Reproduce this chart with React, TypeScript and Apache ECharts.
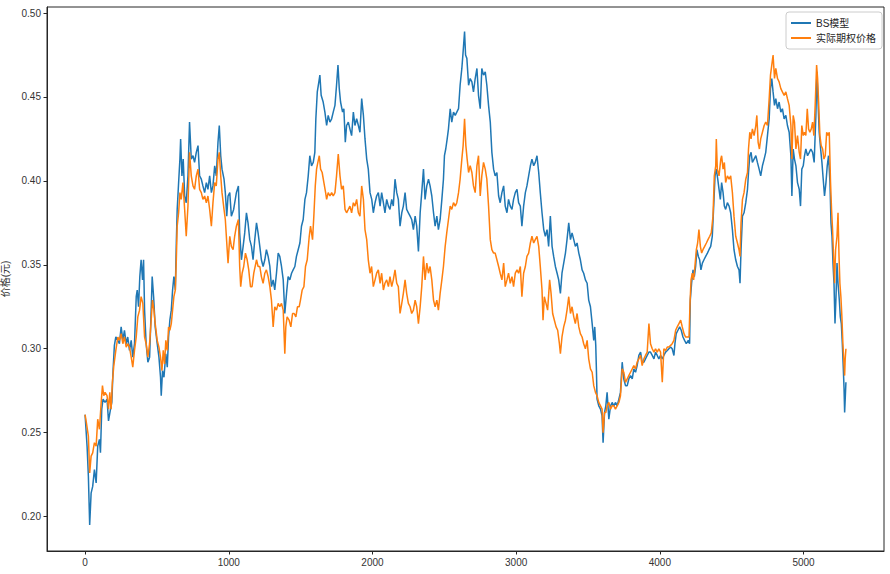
import React, { useEffect, useRef } from "react";
import * as echarts from "echarts";

// [index, price] pairs
const bsModel: number[][] = [
[0,0.2607],[14,0.2418],[23,0.224],[32,0.195],[42,0.214],[53,0.218],[65,0.228],[77,0.22],[88,0.242],[100,0.246],[107,0.238],[116,0.264],[125,0.270],[139,0.268],[153,0.270],[163,0.257],[177,0.264],[186,0.268],[195,0.2876],[204,0.302],[214,0.307],[228,0.305],[239,0.303],[251,0.313],[263,0.305],[274,0.311],[286,0.303],[297,0.307],[309,0.299],[321,0.305],[332,0.295],[344,0.303],[356,0.331],[363,0.335],[372,0.325],[381,0.343],[390,0.353],[400,0.341],[407,0.353],[414,0.323],[425,0.303],[437,0.292],[449,0.295],[460,0.323],[467,0.343],[477,0.331],[488,0.313],[502,0.303],[514,0.295],[525,0.283],[530,0.272],[539,0.287],[549,0.283],[562,0.297],[572,0.289],[581,0.307],[590,0.317],[600,0.323],[609,0.335],[618,0.343],[628,0.335],[635,0.363],[641,0.383],[651,0.399],[660,0.413],[665,0.425],[674,0.403],[683,0.413],[693,0.391],[704,0.387],[716,0.403],[727,0.435],[739,0.413],[751,0.415],[762,0.411],[774,0.417],[786,0.421],[797,0.403],[809,0.401],[820,0.397],[832,0.393],[844,0.399],[855,0.395],[867,0.403],[879,0.393],[890,0.397],[902,0.409],[913,0.403],[925,0.423],[934,0.433],[944,0.415],[953,0.407],[967,0.401],[976,0.393],[986,0.379],[995,0.391],[1007,0.393],[1018,0.379],[1034,0.383],[1053,0.393],[1067,0.397],[1076,0.369],[1088,0.353],[1100,0.361],[1111,0.369],[1123,0.381],[1134,0.375],[1146,0.365],[1158,0.361],[1169,0.353],[1181,0.365],[1193,0.375],[1204,0.369],[1216,0.361],[1227,0.353],[1239,0.349],[1251,0.353],[1262,0.359],[1274,0.355],[1286,0.349],[1297,0.337],[1309,0.341],[1320,0.335],[1332,0.345],[1344,0.357],[1355,0.355],[1367,0.349],[1379,0.341],[1390,0.321],[1402,0.333],[1413,0.343],[1425,0.341],[1437,0.345],[1448,0.347],[1460,0.349],[1471,0.355],[1483,0.359],[1495,0.363],[1506,0.373],[1518,0.377],[1530,0.389],[1541,0.393],[1553,0.403],[1564,0.415],[1576,0.409],[1588,0.411],[1599,0.417],[1606,0.437],[1616,0.453],[1627,0.459],[1634,0.463],[1643,0.451],[1657,0.447],[1669,0.441],[1681,0.433],[1692,0.439],[1704,0.435],[1716,0.437],[1727,0.441],[1739,0.445],[1750,0.457],[1760,0.469],[1769,0.455],[1778,0.447],[1792,0.441],[1801,0.443],[1811,0.423],[1820,0.433],[1832,0.435],[1843,0.431],[1855,0.427],[1867,0.441],[1878,0.433],[1890,0.437],[1902,0.433],[1913,0.429],[1925,0.449],[1937,0.439],[1948,0.425],[1960,0.413],[1971,0.407],[1983,0.393],[1995,0.389],[2006,0.381],[2018,0.387],[2029,0.391],[2041,0.393],[2053,0.385],[2064,0.393],[2076,0.387],[2087,0.381],[2099,0.389],[2111,0.385],[2122,0.383],[2134,0.389],[2145,0.385],[2157,0.401],[2169,0.393],[2180,0.389],[2192,0.373],[2204,0.381],[2215,0.385],[2227,0.393],[2238,0.383],[2250,0.381],[2262,0.379],[2273,0.377],[2285,0.371],[2297,0.379],[2308,0.373],[2320,0.358],[2332,0.381],[2343,0.393],[2355,0.407],[2366,0.389],[2378,0.397],[2390,0.401],[2401,0.397],[2413,0.391],[2425,0.381],[2436,0.373],[2448,0.379],[2459,0.371],[2471,0.377],[2483,0.389],[2494,0.401],[2501,0.415],[2510,0.419],[2520,0.425],[2529,0.431],[2541,0.443],[2552,0.435],[2564,0.441],[2576,0.439],[2587,0.441],[2599,0.443],[2610,0.457],[2622,0.467],[2631,0.477],[2641,0.489],[2648,0.475],[2657,0.473],[2669,0.457],[2680,0.461],[2692,0.459],[2703,0.453],[2715,0.461],[2727,0.467],[2738,0.451],[2750,0.443],[2761,0.467],[2773,0.463],[2785,0.465],[2796,0.457],[2808,0.445],[2820,0.435],[2831,0.417],[2843,0.407],[2854,0.403],[2866,0.405],[2878,0.391],[2889,0.387],[2901,0.393],[2913,0.397],[2924,0.385],[2936,0.381],[2947,0.389],[2959,0.385],[2971,0.383],[2982,0.389],[2994,0.393],[3006,0.395],[3017,0.387],[3029,0.385],[3040,0.373],[3052,0.385],[3064,0.393],[3075,0.397],[3087,0.403],[3099,0.409],[3110,0.413],[3122,0.409],[3133,0.411],[3145,0.415],[3157,0.405],[3168,0.393],[3180,0.381],[3192,0.371],[3203,0.367],[3215,0.371],[3226,0.361],[3238,0.379],[3250,0.361],[3261,0.355],[3273,0.349],[3285,0.345],[3296,0.341],[3308,0.333],[3319,0.345],[3331,0.351],[3343,0.357],[3354,0.365],[3366,0.375],[3378,0.365],[3389,0.369],[3401,0.365],[3412,0.361],[3424,0.363],[3436,0.357],[3447,0.353],[3459,0.347],[3470,0.345],[3482,0.341],[3494,0.339],[3505,0.329],[3517,0.325],[3529,0.315],[3540,0.305],[3547,0.313],[3554,0.302],[3559,0.286],[3563,0.270],[3575,0.266],[3587,0.264],[3598,0.260],[3605,0.244],[3615,0.262],[3624,0.266],[3633,0.274],[3645,0.258],[3657,0.266],[3668,0.268],[3680,0.266],[3691,0.268],[3703,0.266],[3715,0.270],[3726,0.274],[3738,0.292],[3749,0.282],[3761,0.278],[3773,0.278],[3784,0.282],[3796,0.284],[3808,0.282],[3819,0.288],[3831,0.286],[3842,0.290],[3854,0.296],[3866,0.298],[3877,0.292],[3889,0.292],[3900,0.294],[3912,0.296],[3924,0.298],[3935,0.298],[3947,0.296],[3959,0.294],[3970,0.298],[3982,0.296],[3993,0.294],[4005,0.296],[4017,0.294],[4028,0.296],[4040,0.298],[4052,0.299],[4063,0.300],[4075,0.301],[4086,0.300],[4098,0.296],[4105,0.303],[4114,0.309],[4126,0.311],[4138,0.313],[4149,0.311],[4161,0.307],[4172,0.305],[4184,0.303],[4198,0.305],[4207,0.303],[4212,0.329],[4221,0.339],[4231,0.347],[4240,0.343],[4249,0.349],[4258,0.359],[4268,0.355],[4277,0.353],[4286,0.347],[4296,0.351],[4307,0.353],[4319,0.355],[4331,0.357],[4342,0.359],[4354,0.361],[4365,0.367],[4377,0.389],[4384,0.403],[4393,0.407],[4403,0.401],[4412,0.395],[4421,0.389],[4430,0.399],[4440,0.393],[4449,0.385],[4458,0.383],[4470,0.387],[4482,0.385],[4493,0.381],[4505,0.371],[4516,0.359],[4528,0.353],[4540,0.349],[4551,0.347],[4558,0.339],[4565,0.359],[4575,0.379],[4586,0.381],[4598,0.387],[4610,0.395],[4617,0.405],[4626,0.415],[4635,0.417],[4644,0.411],[4656,0.413],[4668,0.415],[4679,0.411],[4691,0.407],[4702,0.403],[4714,0.409],[4726,0.413],[4737,0.417],[4749,0.427],[4761,0.437],[4770,0.455],[4779,0.461],[4788,0.453],[4798,0.445],[4807,0.449],[4819,0.443],[4830,0.447],[4842,0.441],[4853,0.443],[4865,0.437],[4877,0.439],[4888,0.433],[4900,0.429],[4912,0.415],[4919,0.391],[4928,0.419],[4937,0.413],[4947,0.409],[4958,0.399],[4970,0.395],[4979,0.385],[4988,0.407],[4998,0.409],[5007,0.415],[5016,0.419],[5028,0.415],[5040,0.417],[5051,0.419],[5063,0.417],[5074,0.411],[5086,0.439],[5093,0.465],[5100,0.449],[5109,0.429],[5119,0.419],[5128,0.411],[5137,0.401],[5146,0.391],[5156,0.399],[5165,0.409],[5174,0.415],[5184,0.399],[5191,0.375],[5198,0.367],[5205,0.351],[5212,0.339],[5219,0.315],[5226,0.331],[5233,0.351],[5240,0.339],[5249,0.329],[5256,0.319],[5263,0.315],[5270,0.303],[5277,0.288],[5282,0.276],[5286,0.262],[5290,0.270],[5295,0.280]
];

const actualPrice: number[][] = [
[0,0.2607],[9,0.256],[23,0.248],[32,0.226],[42,0.236],[53,0.238],[65,0.244],[77,0.242],[88,0.258],[100,0.252],[112,0.268],[121,0.278],[130,0.272],[139,0.274],[153,0.272],[163,0.264],[172,0.274],[181,0.264],[190,0.28],[200,0.29],[214,0.299],[228,0.307],[239,0.305],[251,0.309],[263,0.303],[274,0.307],[286,0.301],[297,0.303],[309,0.301],[321,0.295],[332,0.289],[344,0.299],[356,0.307],[367,0.319],[379,0.323],[390,0.331],[402,0.327],[414,0.307],[425,0.303],[437,0.295],[449,0.303],[460,0.317],[469,0.329],[479,0.323],[488,0.315],[502,0.305],[514,0.301],[525,0.295],[535,0.287],[544,0.299],[553,0.291],[562,0.305],[572,0.299],[581,0.313],[590,0.311],[600,0.315],[609,0.323],[618,0.331],[628,0.335],[635,0.353],[641,0.373],[651,0.381],[660,0.393],[669,0.389],[681,0.399],[693,0.383],[704,0.367],[716,0.385],[727,0.417],[739,0.403],[751,0.397],[762,0.395],[774,0.403],[786,0.407],[797,0.395],[809,0.393],[820,0.389],[832,0.391],[844,0.387],[855,0.391],[867,0.383],[879,0.373],[890,0.387],[902,0.399],[913,0.397],[925,0.413],[934,0.417],[944,0.403],[953,0.393],[967,0.383],[976,0.377],[986,0.363],[995,0.351],[1007,0.367],[1018,0.361],[1030,0.359],[1041,0.367],[1053,0.373],[1067,0.377],[1076,0.349],[1083,0.337],[1093,0.345],[1104,0.349],[1116,0.357],[1128,0.353],[1139,0.347],[1151,0.337],[1162,0.337],[1174,0.345],[1193,0.353],[1204,0.349],[1216,0.349],[1227,0.343],[1239,0.339],[1251,0.345],[1262,0.347],[1274,0.343],[1286,0.337],[1297,0.329],[1309,0.313],[1320,0.325],[1332,0.323],[1344,0.327],[1355,0.325],[1367,0.327],[1379,0.323],[1390,0.297],[1397,0.313],[1406,0.319],[1420,0.317],[1432,0.313],[1444,0.321],[1455,0.321],[1467,0.319],[1478,0.325],[1490,0.325],[1499,0.329],[1511,0.335],[1523,0.337],[1534,0.349],[1546,0.353],[1560,0.367],[1569,0.373],[1583,0.365],[1592,0.379],[1602,0.397],[1611,0.407],[1620,0.411],[1630,0.415],[1639,0.407],[1650,0.405],[1662,0.399],[1674,0.393],[1681,0.389],[1692,0.393],[1704,0.391],[1716,0.393],[1727,0.391],[1739,0.393],[1750,0.403],[1762,0.416],[1774,0.403],[1785,0.395],[1797,0.397],[1809,0.383],[1820,0.381],[1832,0.383],[1843,0.385],[1855,0.381],[1867,0.387],[1878,0.385],[1890,0.389],[1902,0.381],[1913,0.379],[1925,0.397],[1937,0.389],[1948,0.371],[1960,0.365],[1971,0.353],[1983,0.345],[1994,0.349],[2006,0.337],[2018,0.341],[2029,0.345],[2041,0.347],[2053,0.339],[2064,0.345],[2076,0.335],[2087,0.339],[2099,0.341],[2111,0.337],[2122,0.343],[2134,0.337],[2145,0.341],[2157,0.347],[2169,0.339],[2180,0.337],[2192,0.321],[2204,0.327],[2215,0.333],[2227,0.341],[2238,0.333],[2250,0.327],[2262,0.325],[2273,0.321],[2285,0.323],[2297,0.329],[2308,0.325],[2320,0.315],[2332,0.325],[2343,0.337],[2355,0.355],[2366,0.341],[2378,0.351],[2390,0.345],[2401,0.349],[2413,0.341],[2425,0.329],[2436,0.325],[2448,0.329],[2459,0.323],[2471,0.333],[2483,0.341],[2494,0.349],[2506,0.361],[2517,0.369],[2529,0.377],[2541,0.385],[2552,0.383],[2564,0.387],[2576,0.385],[2587,0.387],[2599,0.393],[2610,0.401],[2622,0.413],[2631,0.421],[2641,0.437],[2650,0.421],[2659,0.413],[2669,0.405],[2680,0.409],[2692,0.405],[2703,0.397],[2715,0.393],[2727,0.409],[2738,0.415],[2750,0.391],[2761,0.403],[2773,0.411],[2785,0.407],[2796,0.401],[2808,0.385],[2820,0.365],[2831,0.359],[2843,0.357],[2854,0.357],[2866,0.353],[2878,0.349],[2889,0.345],[2901,0.341],[2913,0.351],[2924,0.337],[2936,0.341],[2947,0.345],[2959,0.339],[2971,0.343],[2982,0.337],[2994,0.345],[3006,0.347],[3017,0.345],[3029,0.349],[3040,0.331],[3052,0.345],[3064,0.349],[3075,0.355],[3087,0.357],[3099,0.363],[3110,0.367],[3122,0.363],[3133,0.365],[3145,0.367],[3157,0.361],[3168,0.349],[3180,0.335],[3187,0.317],[3196,0.331],[3208,0.327],[3219,0.323],[3233,0.341],[3243,0.333],[3254,0.321],[3266,0.317],[3278,0.313],[3289,0.311],[3301,0.303],[3308,0.297],[3319,0.307],[3331,0.313],[3343,0.317],[3354,0.323],[3366,0.331],[3378,0.321],[3389,0.325],[3401,0.319],[3412,0.315],[3424,0.321],[3436,0.313],[3447,0.309],[3459,0.307],[3470,0.303],[3482,0.300],[3494,0.305],[3505,0.294],[3517,0.288],[3529,0.286],[3540,0.278],[3552,0.274],[3563,0.272],[3575,0.268],[3587,0.266],[3598,0.264],[3605,0.250],[3615,0.262],[3624,0.262],[3633,0.266],[3645,0.268],[3657,0.264],[3668,0.266],[3680,0.266],[3691,0.264],[3703,0.266],[3715,0.268],[3726,0.272],[3738,0.288],[3749,0.286],[3761,0.280],[3773,0.282],[3784,0.284],[3796,0.286],[3808,0.288],[3819,0.290],[3831,0.288],[3842,0.292],[3854,0.294],[3866,0.296],[3877,0.290],[3889,0.294],[3900,0.296],[3912,0.298],[3924,0.315],[3935,0.303],[3947,0.300],[3959,0.298],[3970,0.300],[3982,0.298],[3993,0.300],[4005,0.298],[4017,0.280],[4028,0.300],[4040,0.299],[4052,0.301],[4063,0.301],[4075,0.302],[4086,0.303],[4098,0.305],[4110,0.311],[4121,0.313],[4133,0.315],[4145,0.317],[4156,0.313],[4168,0.309],[4179,0.307],[4191,0.307],[4203,0.307],[4210,0.327],[4217,0.341],[4226,0.345],[4235,0.341],[4244,0.349],[4254,0.359],[4263,0.363],[4272,0.371],[4282,0.361],[4291,0.357],[4300,0.359],[4312,0.361],[4324,0.363],[4335,0.365],[4347,0.367],[4358,0.369],[4370,0.379],[4379,0.403],[4389,0.409],[4393,0.425],[4400,0.407],[4412,0.403],[4424,0.413],[4430,0.415],[4440,0.407],[4449,0.411],[4458,0.399],[4470,0.403],[4482,0.401],[4493,0.403],[4505,0.393],[4516,0.379],[4528,0.367],[4540,0.363],[4551,0.359],[4558,0.355],[4565,0.375],[4575,0.389],[4586,0.393],[4598,0.401],[4610,0.405],[4617,0.419],[4626,0.429],[4635,0.425],[4644,0.431],[4656,0.427],[4668,0.433],[4675,0.439],[4684,0.423],[4693,0.419],[4702,0.425],[4714,0.429],[4726,0.433],[4737,0.435],[4749,0.433],[4761,0.449],[4770,0.463],[4779,0.469],[4788,0.475],[4798,0.461],[4807,0.467],[4819,0.461],[4830,0.459],[4842,0.455],[4853,0.453],[4865,0.451],[4877,0.453],[4888,0.449],[4900,0.445],[4912,0.433],[4919,0.413],[4928,0.439],[4937,0.435],[4947,0.419],[4958,0.427],[4970,0.417],[4979,0.413],[4988,0.433],[4998,0.427],[5007,0.429],[5016,0.427],[5026,0.443],[5035,0.431],[5044,0.429],[5054,0.431],[5063,0.435],[5072,0.427],[5081,0.445],[5091,0.469],[5098,0.461],[5105,0.447],[5114,0.427],[5123,0.421],[5133,0.419],[5142,0.413],[5151,0.415],[5161,0.429],[5170,0.427],[5179,0.429],[5188,0.399],[5195,0.383],[5202,0.371],[5209,0.355],[5216,0.339],[5223,0.359],[5233,0.367],[5240,0.381],[5247,0.355],[5253,0.339],[5260,0.331],[5267,0.319],[5274,0.303],[5281,0.292],[5286,0.284],[5290,0.294],[5295,0.300]
];

const xTicks = [0, 1000, 2000, 3000, 4000, 5000];
const yTicks = [0.2, 0.25, 0.3, 0.35, 0.4, 0.45, 0.5];
const seriesNames = ["BS模型", "实际期权价格"];

const FONT = "'Liberation Sans', 'Noto Sans CJK SC', sans-serif";
const INK = "#262626";
const LABEL = "#333333";

export default function App() {
  const ref = useRef<HTMLDivElement>(null);
  useEffect(() => {
    if (!ref.current) return;
    const chart = echarts.init(ref.current, undefined, { renderer: "svg" });
    const axisLine = { show: true, onZero: false, lineStyle: { color: INK, width: 1 } };
    const tickStyle = { show: true, length: 3.5, lineStyle: { color: INK, width: 1 } };
    chart.setOption({
      animation: false,
      backgroundColor: "#ffffff",
      textStyle: { fontFamily: FONT },
      grid: {
        left: 47, top: 7, right: 6, bottom: 23,
        containLabel: false,
        outerBoundsMode: "none",
        show: true, borderColor: INK, borderWidth: 1, backgroundColor: "transparent",
      },
      legend: {
        orient: "vertical",
        right: 8,
        top: 12,
        data: seriesNames.map((n) => ({ name: n, icon: "rect" })),
        itemWidth: 20,
        itemHeight: 2,
        itemGap: 5,
        padding: [6, 6, 6, 5],
        borderColor: "#cccccc",
        borderWidth: 1,
        borderRadius: 3,
        backgroundColor: "rgba(255,255,255,0.8)",
        textStyle: { fontSize: 10, color: INK, fontFamily: FONT },
      },
      xAxis: {
        type: "value",
        min: -265,
        max: 5560,
        axisLine,
        splitLine: { show: false },
        axisTick: { ...tickStyle, customValues: xTicks },
        axisLabel: {
          customValues: xTicks, fontSize: 10, color: LABEL, margin: 6, fontFamily: FONT,
          formatter: (v: number) => String(v),
        },
      },
      yAxis: {
        type: "value",
        min: 0.1795,
        max: 0.5036,
        name: "价格(元)",
        nameLocation: "middle",
        nameGap: 30,
        nameTextStyle: { fontSize: 10, color: LABEL, fontFamily: FONT },
        axisLine,
        splitLine: { show: false },
        axisTick: { ...tickStyle, customValues: yTicks },
        axisLabel: {
          customValues: yTicks, fontSize: 10, color: LABEL, margin: 6, fontFamily: FONT,
          formatter: (v: number) => v.toFixed(2),
        },
      },
      series: [
        {
          name: seriesNames[0], type: "line", data: bsModel, showSymbol: false,
          lineStyle: { color: "#1f77b4", width: 1.5 }, itemStyle: { color: "#1f77b4" }, z: 2,
        },
        {
          name: seriesNames[1], type: "line", data: actualPrice, showSymbol: false,
          lineStyle: { color: "#ff7f0e", width: 1.5 }, itemStyle: { color: "#ff7f0e" }, z: 3,
        },
      ],
    });
    return () => chart.dispose();
  }, []);
  return (
    <div
      ref={ref}
      style={{ position: "fixed", left: 0, top: 0, width: 890, height: 574, background: "#fff" }}
    />
  );
}
